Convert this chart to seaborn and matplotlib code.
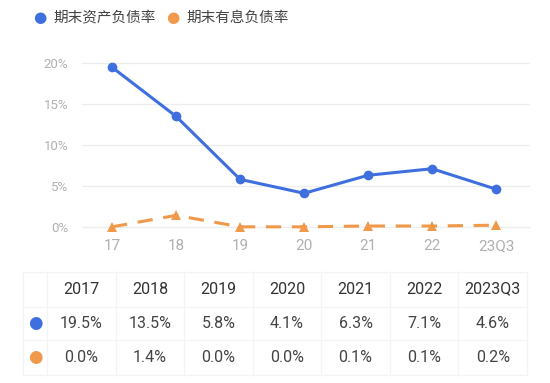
import matplotlib
matplotlib.use("Agg")
import matplotlib.pyplot as plt
import seaborn as sns
import pandas as pd
import numpy as np

# ---- data ----
axis_labels = ["17", "18", "19", "20", "21", "22", "23Q3"]
table_headers = ["2017", "2018", "2019", "2020", "2021", "2022", "2023Q3"]
asset_liability = [19.5, 13.5, 5.8, 4.1, 6.3, 7.1, 4.6]
interest_liability = [0.0, 1.4, 0.0, 0.0, 0.1, 0.1, 0.2]
series_names = ["期末资产负债率", "期末有息负债率"]
y_ticks = [0, 5, 10, 15, 20]

BLUE = "#3f6fdf"
ORANGE = "#f0994a"
W, H = 550, 383

sns.set_theme(style="white")
plt.rcParams['font.family'] = ['Roboto', 'Noto Sans CJK SC', 'DejaVu Sans']

fig = plt.figure(figsize=(W / 100, H / 100), dpi=100)

def fx(px):
    return px / W

def fy(py):
    return 1 - py / H

ax = fig.add_axes([fx(82), fy(235), fx(530) - fx(82), fy(55) - fy(235)])

df = pd.DataFrame({
    "idx": list(range(len(axis_labels))) * 2,
    "value": asset_liability + interest_liability,
    "series": [series_names[0]] * len(axis_labels) + [series_names[1]] * len(axis_labels),
})

sns.lineplot(data=df[df.series == series_names[0]], x="idx", y="value", ax=ax,
             color=BLUE, linewidth=2.2, marker="o", markersize=7,
             markeredgewidth=0, legend=False)
sns.lineplot(data=df[df.series == series_names[1]], x="idx", y="value", ax=ax,
             color=ORANGE, linewidth=2.2, marker="^", markersize=7,
             markeredgewidth=0, legend=False)
ax.lines[1].set_dashes([5, 3.5])

ax.set_xlim(-0.47, 6.53)
ax.set_ylim(-1, 21)
ax.set_yticks(y_ticks)
ax.set_yticklabels([f"{v}%" for v in y_ticks])
ax.set_xticks(range(len(axis_labels)))
ax.set_xticklabels(axis_labels)
ax.tick_params(axis="y", labelsize=9.5, length=0, pad=10)
ax.tick_params(axis="x", labelsize=11, length=0, pad=3)
for t in ax.get_xticklabels() + ax.get_yticklabels():
    t.set_color("#b0b0b0")
ax.set_xlabel("")
ax.set_ylabel("")
ax.grid(axis="y", color="#ededed", linewidth=0.9)
ax.set_axisbelow(True)
for s in ax.spines.values():
    s.set_visible(False)

# ---- legend ----
fig.text(fx(40), fy(18), "●", color=BLUE, fontsize=11, ha="center", va="center",
         family=['DejaVu Sans'])
fig.text(fx(53), fy(18), series_names[0], color="#444444", fontsize=10.5,
         ha="left", va="center")
fig.text(fx(173), fy(18), "●", color=ORANGE, fontsize=11, ha="center", va="center",
         family=['DejaVu Sans'])
fig.text(fx(186), fy(18), series_names[1], color="#444444", fontsize=10.5,
         ha="left", va="center")

# ---- table ----
line_col = "#f4f4f4"
left, right = 23, 527
top, bottom = 272, 375
row_seps = [307, 340]
first_col = 47
ncol = len(table_headers)
col_w = (right - first_col) / ncol
for y in [top] + row_seps + [bottom]:
    fig.add_artist(plt.Line2D([fx(left), fx(right)], [fy(y), fy(y)],
                              color=line_col, linewidth=0.9))
for i in range(ncol + 1):
    x = first_col + i * col_w
    fig.add_artist(plt.Line2D([fx(x), fx(x)], [fy(top), fy(bottom)],
                              color=line_col, linewidth=0.9))
fig.add_artist(plt.Line2D([fx(left), fx(left)], [fy(top), fy(bottom)],
                          color=line_col, linewidth=0.9))

row_y = [289, 323, 357]
for i, h in enumerate(table_headers):
    cx = first_col + (i + 0.5) * col_w
    fig.text(fx(cx), fy(row_y[0]), h, color="#333333", fontsize=11.5,
             ha="center", va="center")
    fig.text(fx(cx), fy(row_y[1]), f"{asset_liability[i]:.1f}%", color="#444444",
             fontsize=11.5, ha="center", va="center")
    fig.text(fx(cx), fy(row_y[2]), f"{interest_liability[i]:.1f}%", color="#444444",
             fontsize=11.5, ha="center", va="center")
fig.text(fx(35), fy(row_y[1]), "●", color=BLUE, fontsize=12, ha="center",
         va="center", family=['DejaVu Sans'])
fig.text(fx(35), fy(row_y[2]), "●", color=ORANGE, fontsize=12, ha="center",
         va="center", family=['DejaVu Sans'])

fig.savefig("out.png", dpi=100)
